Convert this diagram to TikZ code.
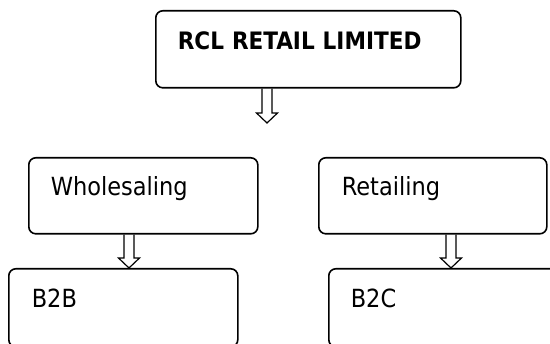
\documentclass[tikz,border=0pt]{standalone}
\usepackage{fontspec}
\setmainfont{DejaVu Sans Condensed}
\usetikzlibrary{calc}
\tikzset{
  box/.style={draw, line width=1.6pt, rounded corners=7pt, inner ysep=0pt,
    align=left, anchor=north west, font=\fontsize{25}{30}\selectfont},
  arr/.style={draw, line width=1.2pt, line join=miter},
}
\newcommand\blockarrow[2]{%
  \path[arr] let \p1=(#1), \p2=(#2) in
    (\x1-5pt,\y1) -- (\x1-5pt,\y2+10pt) -- (\x1-10.5pt,\y2+10pt) -- (\x1,\y2)
    -- (\x1+10.5pt,\y2+10pt) -- (\x1+5pt,\y2+10pt) -- (\x1+5pt,\y1);}
\begin{document}
\begin{tikzpicture}[x=1pt,y=-1pt]
  \useasboundingbox (0,0) rectangle (550,344);
  \clip (0,0) rectangle (550,344);
  \node[box, inner xsep=22pt, text width=261pt, text height=39pt, text depth=38pt,
        font=\fontsize{24}{29}\selectfont\bfseries] (rcl) at (155,10) {RCL RETAIL LIMITED};
  \node[box, inner xsep=22pt, text width=185pt, text height=38pt, text depth=38pt] (whole) at (28,157) {Wholesaling};
  \node[box, inner xsep=23pt, text width=182pt, text height=38pt, text depth=38pt] (retail) at (318,157) {Retailing};
  \node[box, inner xsep=23pt, text width=183pt, text height=39pt, text depth=39pt] (btob) at (8,268) {B2B};
  \node[box, inner xsep=22pt, text width=206pt, text height=39pt, text depth=39pt] (btoc) at (328,268) {B2C};
  \coordinate (a0) at ($(rcl.south west)+(112pt,0pt)$);
  \coordinate (t0) at (267,123);
  \coordinate (a1) at ($(whole.south west)+(101pt,0pt)$);
  \coordinate (t1) at ($(btob.north west)+(121pt,0pt)$);
  \coordinate (a2) at ($(retail.south west)+(133pt,0pt)$);
  \coordinate (t2) at ($(btoc.north west)+(123pt,0pt)$);
  \blockarrow{a0}{t0}
  \blockarrow{a1}{t1}
  \blockarrow{a2}{t2}
\end{tikzpicture}
\end{document}
